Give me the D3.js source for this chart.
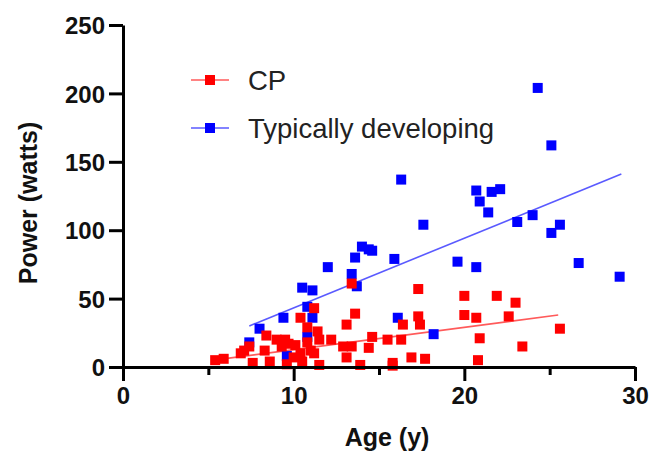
<!DOCTYPE html>
<html><head><meta charset="utf-8">
<script src="https://cdn.jsdelivr.net/npm/d3@7"></script>
<style>body{margin:0;background:#fff}svg{display:block}</style>
</head><body>
<svg id="c" width="651" height="457"></svg>
<script>
const seriesNames = ["CP", "Typically developing"];
const seriesColors = ["#ff0000", "#0000ff"];
const fitColors = ["#ff5a5a", "#5a5aff"];
const xTicks = [0, 10, 20, 30];
const xMinorTicks = [5, 15, 25];
const yTicks = [0, 50, 100, 150, 200, 250];
const xTitle = "Age (y)";
const yTitle = "Power (watts)";

const cpAge = [5.4,5.9,6.9,7.1,7.4,7.6,8.4,8.3,8.6,9.0,9.3,9.5,9.7,10.1,9.6,10.0,10.4,10.4,10.5,10.8,10.8,11.0,11.2,11.4,11.5,11.2,11.5,12.2,13.4,13.6,13.1,12.9,13.1,13.9,13.4,14.6,14.4,15.5,15.8,17.3,20.0,21.9,23.0,17.3,16.4,17.4,20.0,20.7,22.6,16.3,20.9,25.6,23.4,16.9,17.7,20.8,15.8];
const cpPower = [5,6,10,12,15,3,23,12,4,20,15,20,17,16,2,7,36,10,4,29,18,12,43,26,20,10,1.5,20,61,39,31,15,7,1.5,15,22,14,20,3,57,52,52,47,37,31,31,38,36,37,20,21,28,15,7,6,5,1];

const tdAge = [7.4,8.0,9.6,9.4,10.5,11.1,10.8,11.1,10.8,12.0,13.4,13.6,14.0,14.4,14.6,13.7,15.9,16.1,16.3,17.6,18.2,19.6,20.7,20.7,20.9,21.4,21.6,22.1,23.1,24.0,24.3,25.1,25.1,25.6,26.7,29.1];
const tdPower = [18,28,8,36,58,56,44,36,22,73,68,80,88,86,85,59,79,36,137,104,24,77,73,129,121,113,128,130,106,111,204,162,98,104,76,66];

const cpFitX = [5.3, 25.5];
const cpFitY = [5, 38];
const tdFitX = [7.4, 29.2];
const tdFitY = [30, 141];

const svg = d3.select("#c");
const x = d3.scaleLinear().domain([0, 30]).range([123, 635]);
const y = d3.scaleLinear().domain([0, 250]).range([367, 25]);
const font = "'Liberation Sans', Arial, sans-serif";

// fit lines
[[cpFitX, cpFitY], [tdFitX, tdFitY]].forEach(([fx, fy], i) => {
  svg.append("line")
    .attr("x1", x(fx[0])).attr("y1", y(fy[0]))
    .attr("x2", x(fx[1])).attr("y2", y(fy[1]))
    .attr("stroke", fitColors[i]).attr("stroke-width", 1.6);
});

// points
const sz = 10;
const td = tdAge.map((a, i) => [a, tdPower[i]]);
const cp = cpAge.map((a, i) => [a, cpPower[i]]);
svg.append("g").selectAll("rect").data(td).join("rect")
  .attr("x", d => x(d[0]) - sz/2).attr("y", d => y(d[1]) - sz/2)
  .attr("width", sz).attr("height", sz).attr("fill", seriesColors[1]);
svg.append("g").selectAll("rect").data(cp).join("rect")
  .attr("x", d => x(d[0]) - sz/2).attr("y", d => y(d[1]) - sz/2)
  .attr("width", sz).attr("height", sz).attr("fill", seriesColors[0]);

// axes
const xAxis = svg.append("g").attr("transform", "translate(0,367)")
  .call(d3.axisBottom(x).tickValues(xTicks).tickSize(14).tickSizeOuter(0).tickPadding(6).tickFormat(d3.format("d")));
const xMinor = svg.append("g").attr("transform", "translate(0,367)")
  .call(d3.axisBottom(x).tickValues(xMinorTicks).tickSize(8).tickSizeOuter(0).tickFormat(""));
xMinor.select(".domain").remove();
const yAxis = svg.append("g").attr("transform", "translate(123,0)")
  .call(d3.axisLeft(y).tickValues(yTicks).tickSize(14).tickSizeOuter(0).tickPadding(4).tickFormat(d3.format("d")));
[xAxis, xMinor, yAxis].forEach(g => {
  g.selectAll("path,line").attr("stroke", "#000").attr("stroke-width", 3);
  g.selectAll("text").attr("font-family", font).attr("font-weight", "bold")
    .attr("font-size", 24).attr("fill", "#111");
});
yAxis.selectAll("text").attr("dy", "0.36em");

svg.append("text").attr("x", 387).attr("y", 446).attr("text-anchor", "middle")
  .attr("font-family", font).attr("font-weight", "bold").attr("font-size", 25).attr("fill", "#111")
  .text(xTitle);
svg.append("text").attr("transform", "translate(37,203) rotate(-90)").attr("text-anchor", "middle")
  .attr("font-family", font).attr("font-weight", "bold").attr("font-size", 25).attr("fill", "#111")
  .text(yTitle);

// legend
const legY = [80, 128];
[0, 1].forEach(i => {
  const g = svg.append("g");
  g.append("line").attr("x1", 191).attr("x2", 229).attr("y1", legY[i]).attr("y2", legY[i])
    .attr("stroke", fitColors[i]).attr("stroke-width", 1.6);
  g.append("rect").attr("x", 210 - sz/2).attr("y", legY[i] - sz/2).attr("width", sz).attr("height", sz)
    .attr("fill", seriesColors[i]);
  g.append("text").attr("x", 248).attr("y", legY[i]).attr("dy", "0.36em")
    .attr("font-family", font).attr("font-size", 27.5).attr("fill", "#222").text(seriesNames[i]);
});
</script>
</body></html>
